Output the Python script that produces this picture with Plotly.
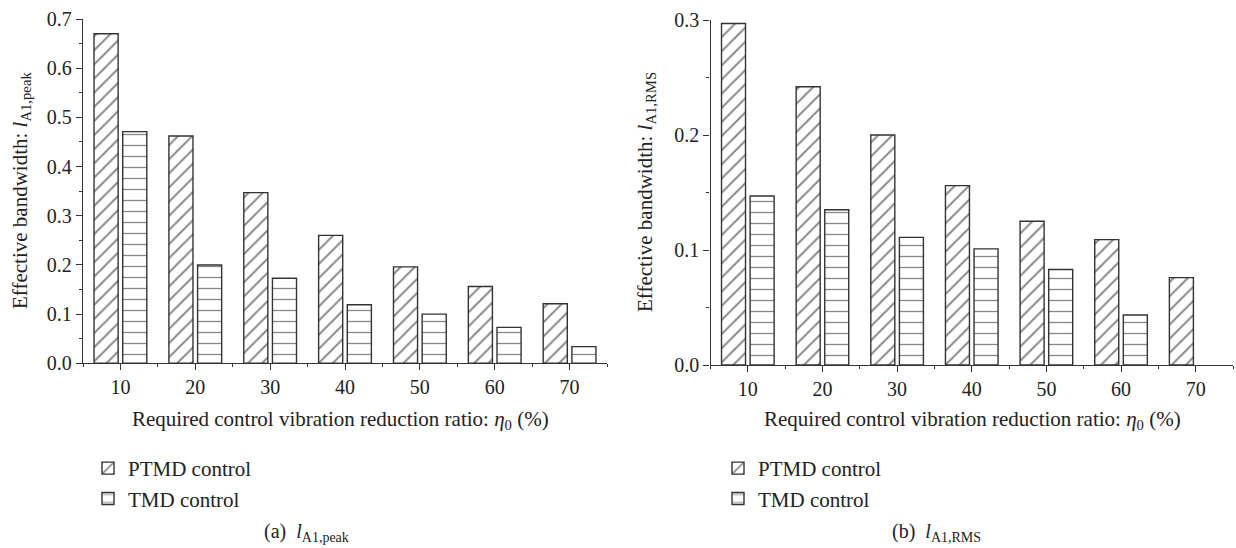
import plotly.graph_objects as go

# Required control vibration reduction ratio (%)
ratio = [10, 20, 30, 40, 50, 60, 70]

# (a) effective bandwidth based on peak response
peak_ptmd = [0.670, 0.462, 0.347, 0.260, 0.196, 0.156, 0.121]
peak_tmd = [0.471, 0.200, 0.173, 0.119, 0.100, 0.073, 0.034]

# (b) effective bandwidth based on RMS response
rms_ptmd = [0.297, 0.242, 0.200, 0.156, 0.125, 0.109, 0.076]
rms_tmd = [0.147, 0.135, 0.111, 0.101, 0.083, 0.0435, None]

W, H = 1236, 548
FONT = "Liberation Serif"
INK = "#222222"

def px_x(p):
    return p / W

def px_y(p):
    return 1 - p / H

hatch = dict(shape="/", fgcolor="#111", bgcolor="white", size=10, solidity=0.2)
stripe = dict(shape="-", fgcolor="#111", bgcolor="white", size=11, solidity=0.12)
edge = dict(color="#333", width=1.4)

fig = go.Figure()
fig.add_trace(go.Bar(x=ratio, y=peak_ptmd, name="PTMD control", xaxis="x", yaxis="y",
                     marker=dict(color="white", pattern=hatch, line=edge), legend="legend"))
fig.add_trace(go.Bar(x=ratio, y=peak_tmd, name="TMD control", xaxis="x", yaxis="y",
                     marker=dict(color="white", pattern=stripe, line=edge), legend="legend"))
fig.add_trace(go.Bar(x=ratio, y=rms_ptmd, name="PTMD control", xaxis="x2", yaxis="y2",
                     marker=dict(color="white", pattern=hatch, line=edge), legend="legend2"))
fig.add_trace(go.Bar(x=ratio, y=rms_tmd, name="TMD control", xaxis="x2", yaxis="y2",
                     marker=dict(color="white", pattern=stripe, line=edge), legend="legend2"))

tickfont = dict(family=FONT, size=20, color=INK)
xcommon = dict(range=[5, 75], tickvals=ratio, ticks="outside", ticklen=6, tickwidth=1.2,
               tickcolor="#333", showline=True, linecolor="#333", linewidth=1.3,
               showgrid=False, zeroline=False, tickfont=tickfont, automargin=False,
               minor=dict(tick0=5, dtick=10, ticks="outside", ticklen=3, tickcolor="#333"))
ycommon = dict(ticks="outside", ticklen=6, tickwidth=1.2, tickcolor="#333", showline=True,
               linecolor="#333", linewidth=1.3, showgrid=False, zeroline=False,
               tickformat=".1f", dtick=0.1, tickfont=tickfont, automargin=False,
               minor=dict(dtick=0.05, ticks="outside", ticklen=3, tickcolor="#333"))

legfont = dict(family=FONT, size=21, color=INK)

fig.update_layout(
    width=W, height=H,
    margin=dict(l=0, r=0, t=0, b=0),
    paper_bgcolor="white", plot_bgcolor="white",
    barmode="group", bargap=0.234, bargroupgap=0.16,
    font=dict(family=FONT, color=INK),
    xaxis=dict(domain=[px_x(83), px_x(607)], anchor="y", **xcommon),
    yaxis=dict(domain=[px_y(363.3), px_y(19)], anchor="x", range=[0, 0.7], **ycommon),
    xaxis2=dict(domain=[px_x(710.5), px_x(1233)], anchor="y2", **xcommon),
    yaxis2=dict(domain=[px_y(365), px_y(20)], anchor="x2", range=[0, 0.3], **ycommon),
    legend=dict(x=px_x(88), y=px_y(448), xanchor="left", yanchor="top",
                font=legfont, bgcolor="rgba(0,0,0,0)", tracegroupgap=0, itemwidth=30),
    legend2=dict(x=px_x(718), y=px_y(448), xanchor="left", yanchor="top",
                 font=legfont, bgcolor="rgba(0,0,0,0)", tracegroupgap=0, itemwidth=30),
)

def note(text, x, y, size, angle=0):
    fig.add_annotation(text=text, x=px_x(x), y=px_y(y), xref="paper", yref="paper",
                       xanchor="center", yanchor="middle", showarrow=False, textangle=angle,
                       font=dict(family=FONT, size=size, color=INK))

# Axis titles
note("Effective bandwidth: <i>l</i><sub>A1,peak</sub>", 21, 191, 21, -90)
note("Effective bandwidth: <i>l</i><sub>A1,RMS</sub>", 646, 192, 21, -90)
note("Required control vibration reduction ratio: <i>η</i><sub>0</sub> (%)", 340, 420, 21)
note("Required control vibration reduction ratio: <i>η</i><sub>0</sub> (%)", 972, 420, 21)

# Panel captions
note("(a)  <i>l</i><sub>A1,peak</sub>", 306, 532, 20)
note("(b)  <i>l</i><sub>A1,RMS</sub>", 936, 532, 20)

fig.write_html("out.html")
